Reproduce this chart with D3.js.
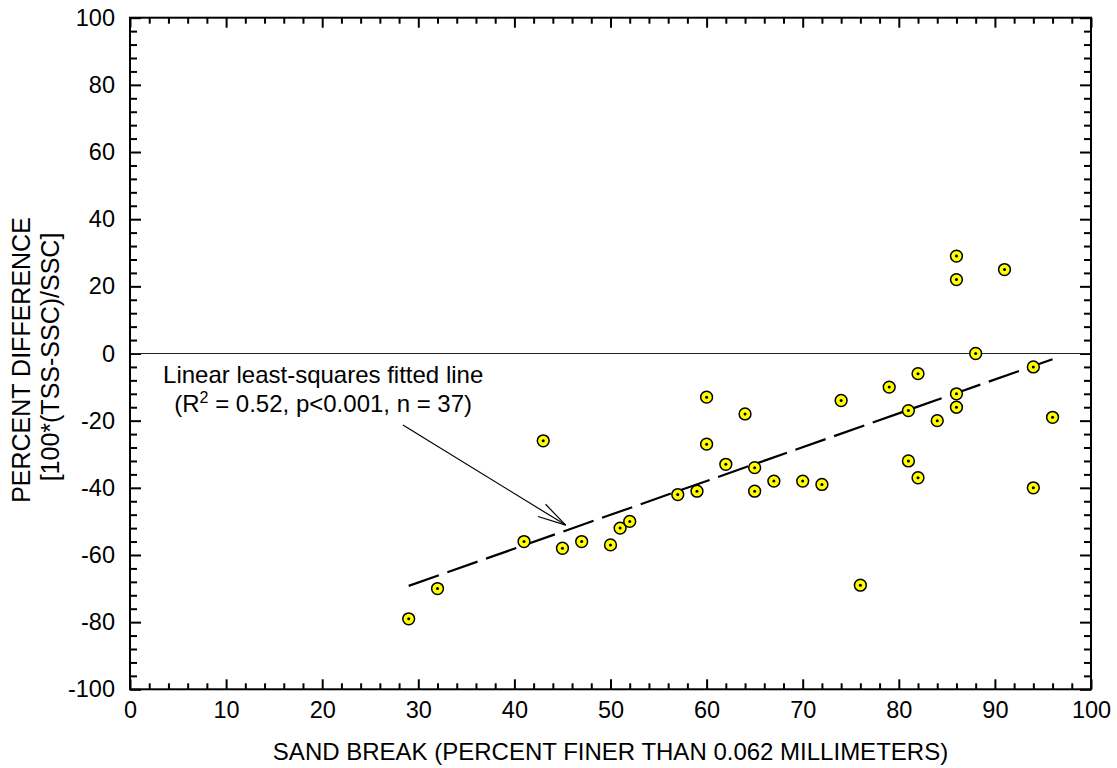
<html>
  <head>
    <meta charset="utf-8">
    <style>
      body { margin: 0; background: #ffffff; }
      text { font-family: Arial, "Liberation Sans", sans-serif; fill: #000; }
      .tick text { font-size: 23.5px; font-family: Arial, "Liberation Sans", sans-serif; }
      .axis-title { font-size: 24px; }
      .y-title { font-size: 25px; }
      .note-text { font-size: 24px; }
    </style>
  </head>
  <body>
    <div id="chart"></div>
    <script src="https://d3js.org/d3.v7.min.js"></script>
    <script>
      // sand break (percent finer than 0.062 mm) vs percent difference
      var sandBreak = [29, 32, 41, 43, 45, 47, 50, 51, 52, 57, 59, 60, 60, 62, 64, 65, 65, 67, 70,
                       72, 74, 76, 79, 81, 81, 82, 82, 84, 86, 86, 86, 86, 88, 91, 94, 94, 96];
      var percentDiff = [-79, -70, -56, -26, -58, -56, -57, -52, -50, -42, -41, -13, -27, -33, -18, -34, -41, -38, -38,
                         -39, -14, -69, -10, -17, -32, -6, -37, -20, 29, 22, -12, -16, 0, 25, -4, -40, -19];

      // fitted line end points
      var fitX = [29, 96];
      var fitY = [-69.2, -1.7];

      var xTickValues = [0, 10, 20, 30, 40, 50, 60, 70, 80, 90, 100];
      var yTickValues = [-100, -80, -60, -40, -20, 0, 20, 40, 60, 80, 100];

      var width = 1117;
      var height = 768;
      var pLeft = 130, pRight = 1091, pTop = 17.7, pBottom = 689.3;

      var svg = d3.select("#chart")
        .append("svg")
        .attr("width", width)
        .attr("height", height);

      var x = d3.scaleLinear().domain([0, 100]).range([pLeft, pRight]);
      var y = d3.scaleLinear().domain([-100, 100]).range([pBottom, pTop]);

      var xMinor = d3.range(0, 101, 2).filter(function(v) { return v % 10 !== 0; });
      var yMinor = d3.range(-100, 101, 4).filter(function(v) { return v % 20 !== 0; });
      var plain = function(d) { return String(d); };

      function styleAxis(g) {
        g.select(".domain").remove();
        g.selectAll(".tick line").attr("stroke", "#000").attr("stroke-width", 2);
      }

      // major ticks with labels
      svg.append("g")
        .attr("transform", "translate(0," + pBottom + ")")
        .call(d3.axisBottom(x).tickValues(xTickValues).tickFormat(plain).tickSizeInner(-10).tickSizeOuter(0).tickPadding(12))
        .call(styleAxis);
      svg.append("g")
        .attr("transform", "translate(" + pLeft + ",0)")
        .call(d3.axisLeft(y).tickValues(yTickValues).tickFormat(plain).tickSizeInner(-11).tickSizeOuter(0).tickPadding(15))
        .call(styleAxis);
      // top / right majors
      svg.append("g")
        .attr("transform", "translate(0," + pTop + ")")
        .call(d3.axisTop(x).tickValues(xTickValues).tickSizeInner(-10).tickSizeOuter(0).tickFormat(""))
        .call(styleAxis);
      svg.append("g")
        .attr("transform", "translate(" + pRight + ",0)")
        .call(d3.axisRight(y).tickValues(yTickValues).tickSizeInner(-11).tickSizeOuter(0).tickFormat(""))
        .call(styleAxis);

      // minor ticks on all four sides
      svg.append("g")
        .attr("transform", "translate(0," + pBottom + ")")
        .call(d3.axisBottom(x).tickValues(xMinor).tickSizeInner(-6).tickSizeOuter(0).tickFormat(""))
        .call(styleAxis);
      svg.append("g")
        .attr("transform", "translate(0," + pTop + ")")
        .call(d3.axisTop(x).tickValues(xMinor).tickSizeInner(-6).tickSizeOuter(0).tickFormat(""))
        .call(styleAxis);
      svg.append("g")
        .attr("transform", "translate(" + pLeft + ",0)")
        .call(d3.axisLeft(y).tickValues(yMinor).tickSizeInner(-7).tickSizeOuter(0).tickFormat(""))
        .call(styleAxis);
      svg.append("g")
        .attr("transform", "translate(" + pRight + ",0)")
        .call(d3.axisRight(y).tickValues(yMinor).tickSizeInner(-7).tickSizeOuter(0).tickFormat(""))
        .call(styleAxis);

      // zero line
      svg.append("line")
        .attr("x1", x(0)).attr("x2", x(100))
        .attr("y1", y(0)).attr("y2", y(0))
        .attr("stroke", "#222")
        .attr("stroke-width", 1.2);

      // frame
      svg.append("rect")
        .attr("x", pLeft).attr("y", pTop)
        .attr("width", pRight - pLeft).attr("height", pBottom - pTop)
        .attr("fill", "none")
        .attr("stroke", "#000")
        .attr("stroke-width", 2);

      // fitted line
      svg.append("line")
        .attr("x1", x(fitX[0])).attr("y1", y(fitY[0]))
        .attr("x2", x(fitX[1])).attr("y2", y(fitY[1]))
        .attr("stroke", "#000")
        .attr("stroke-width", 2.2)
        .attr("stroke-dasharray", "32,9");

      // points
      var pts = svg.append("g").selectAll("g")
        .data(sandBreak.map(function(d, i) { return [d, percentDiff[i]]; }))
        .enter().append("g")
        .attr("transform", function(d) { return "translate(" + x(d[0]) + "," + y(d[1]) + ")"; });
      pts.append("circle")
        .attr("r", 5.9)
        .attr("fill", "#ffff00")
        .attr("stroke", "#000")
        .attr("stroke-width", 1.5);
      pts.append("circle")
        .attr("r", 1.5)
        .attr("fill", "#000");

      // annotation
      svg.append("text")
        .attr("class", "note-text")
        .attr("text-anchor", "middle")
        .attr("x", x(20.1))
        .attr("y", y(-8.8))
        .text("Linear least-squares fitted line");
      var line2 = svg.append("text")
        .attr("class", "note-text")
        .attr("text-anchor", "middle")
        .attr("x", x(20.1))
        .attr("y", y(-17.3));
      line2.append("tspan").text("(R");
      line2.append("tspan").attr("font-size", "16px").attr("dy", "-9").text("2");
      line2.append("tspan").attr("dy", "9").text(" = 0.52, p<0.001, n = 37)");

      // arrow
      var ax0 = x(28.4), ay0 = y(-21.3), ax1 = x(45.34), ay1 = y(-51.1);
      svg.append("line")
        .attr("x1", ax0).attr("y1", ay0).attr("x2", ax1).attr("y2", ay1)
        .attr("stroke", "#000").attr("stroke-width", 1.2);
      var ang = Math.atan2(ay0 - ay1, ax0 - ax1);
      [-0.25, 0.25].forEach(function(da) {
        svg.append("line")
          .attr("x1", ax1).attr("y1", ay1)
          .attr("x2", ax1 + 29 * Math.cos(ang + da))
          .attr("y2", ay1 + 29 * Math.sin(ang + da))
          .attr("stroke", "#000").attr("stroke-width", 1.2);
      });

      // axis titles
      svg.append("text")
        .attr("class", "axis-title")
        .attr("text-anchor", "middle")
        .attr("x", (pLeft + pRight) / 2)
        .attr("y", 759.5)
        .text("SAND BREAK (PERCENT FINER THAN 0.062 MILLIMETERS)");

      svg.append("text")
        .attr("class", "y-title")
        .attr("text-anchor", "middle")
        .attr("transform", "translate(30,360) rotate(-90)")
        .text("PERCENT DIFFERENCE");
      svg.append("text")
        .attr("class", "y-title")
        .attr("text-anchor", "middle")
        .attr("transform", "translate(59,357) rotate(-90)")
        .text("[100*(TSS-SSC)/SSC]");
    </script>
  </body>
</html>
